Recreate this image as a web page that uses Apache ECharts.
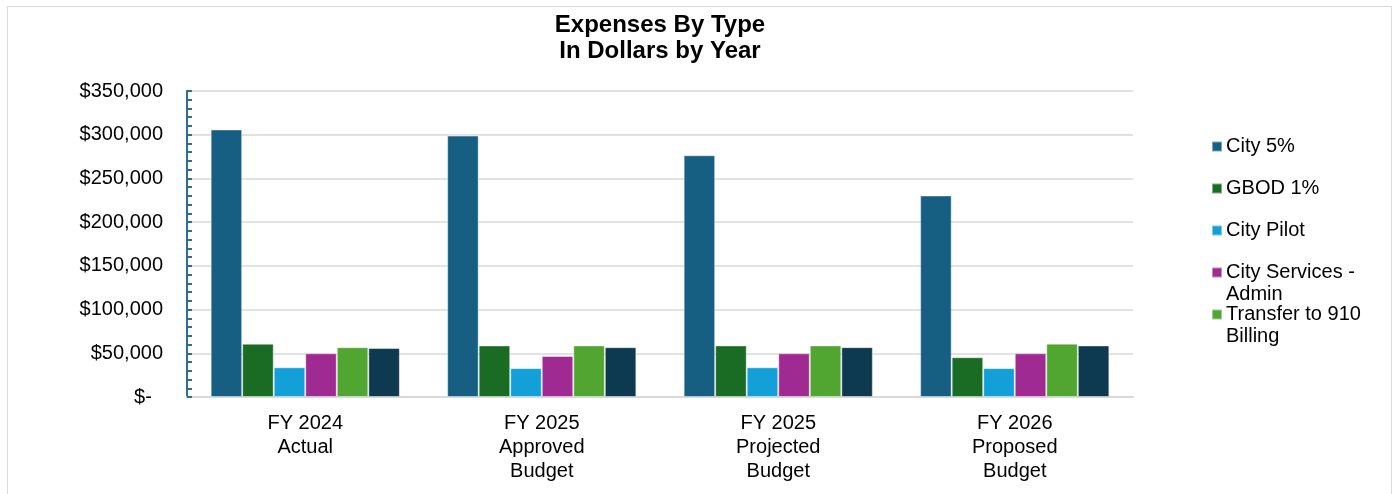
<!DOCTYPE html>
<html>
<head>
<meta charset="utf-8">
<script src="https://cdn.jsdelivr.net/npm/echarts@6/dist/echarts.min.js"></script>
<style>
  html, body { margin: 0; padding: 0; background: #ffffff; }
  #chart { width: 1397px; height: 494px; }
</style>
</head>
<body>
<div id="chart"></div>
<script>
// Fiscal-year columns
const categories = ['FY 2024\nActual', 'FY 2025\nApproved\nBudget', 'FY 2025\nProjected\nBudget', 'FY 2026\nProposed\nBudget'];

// Expense amounts (dollars) per type
const city5 = [306000, 299000, 276500, 230500];
const gbod1 = [61000, 59000, 59000, 45500];
const cityPilot = [34000, 33000, 34000, 33000];
const cityServicesAdmin = [50000, 47000, 50000, 50000];
const transfer910 = [57000, 59000, 59000, 61000];
const other = [56000, 57000, 57000, 59000];

// Series names and the legend text shown for each
const seriesNames = ['City 5%', 'GBOD 1%', 'City Pilot', 'City Services - Admin', 'Transfer to 910 Billing', 'Other'];
const legendText = {
  'City 5%': 'City 5%',
  'GBOD 1%': 'GBOD 1%',
  'City Pilot': 'City Pilot',
  'City Services - Admin': '\nCity Services -\nAdmin',
  'Transfer to 910 Billing': '\nTransfer to 910\nBilling'
};

// Y axis range and tick step
const yMax = 350000;
const yStep = 50000;

const colors = ['#175F82', '#1A6B24', '#139FD7', '#9F2B92', '#50A631', '#0E3A51'];
const seriesData = [city5, gbod1, cityPilot, cityServicesAdmin, transfer910, other];

const FONT = '"Liberation Sans", Arial, sans-serif';

const chart = echarts.init(document.getElementById('chart'), null, { renderer: 'canvas' });

// One legend block per entry so each icon sits beside the first text line
const legendCenters = [146.5, 188.5, 230.5, 272.5, 314.5];
const legendNames = seriesNames.slice(0, 5);
const legends = legendNames.map((name, i) => {
  const lines = legendText[name].split('\n').length;
  const h = lines * 22;
  return {
    data: [name],
    orient: 'vertical',
    left: 1211,
    top: legendCenters[i] - h / 2,
    padding: 0,
    itemWidth: 10,
    itemHeight: 10,
    itemGap: 0,
    icon: 'rect',
    formatter: (n) => legendText[n],
    textStyle: { fontFamily: FONT, fontSize: 20, color: '#000000', lineHeight: 22, padding: [0, 0, 0, -1] }
  };
});

const option = {
  animation: false,
  backgroundColor: '#ffffff',
  color: colors,
  title: {
    text: 'Expenses By Type\nIn Dollars by Year',
    left: 660,
    top: 12,
    textAlign: 'center',
    padding: 0,
    textStyle: { fontFamily: FONT, fontSize: 24, fontWeight: 'bold', color: '#000000', lineHeight: 26 }
  },
  legend: legends,
  graphic: [{
    type: 'rect',
    shape: { x: 7.5, y: 6.5, width: 1384, height: 520 },
    style: { fill: 'none', stroke: '#d9d9d9', lineWidth: 1 },
    silent: true,
    z: -1
  }],
  grid: { left: 187, right: 264, top: 91, bottom: 97, containLabel: false },
  xAxis: {
    type: 'category',
    data: categories,
    axisLine: { show: true, lineStyle: { color: '#d9d9d9', width: 2 } },
    axisTick: { show: false },
    axisLabel: {
      fontFamily: FONT, fontSize: 20, color: '#000000', lineHeight: 24, margin: 14, interval: 0
    },
    splitLine: { show: false }
  },
  yAxis: {
    type: 'value',
    min: 0,
    max: yMax,
    interval: yStep,
    axisLine: { show: true, lineStyle: { color: '#2E6F8E', width: 2 } },
    axisTick: { show: true, inside: true, length: 5, lineStyle: { color: '#2E6F8E', width: 2 } },
    minorTick: { show: true, splitNumber: 5, length: 5, lineStyle: { color: '#2E6F8E', width: 2 } },
    axisLabel: {
      fontFamily: FONT, fontSize: 20, color: '#000000', margin: 24,
      formatter: (v) => v === 0 ? '$-  ' : '$' + v.toLocaleString('en-US')
    },
    splitLine: { show: true, lineStyle: { color: '#d9d9d9', width: 1.5 } }
  },
  series: seriesNames.map((name, i) => ({
    name: name,
    type: 'bar',
    data: seriesData[i],
    barGap: '0%',
    barCategoryGap: '20%',
    itemStyle: { color: colors[i], borderColor: 'rgba(255,255,255,0.45)', borderWidth: 1 }
  }))
};

chart.setOption(option);
</script>
</body>
</html>
